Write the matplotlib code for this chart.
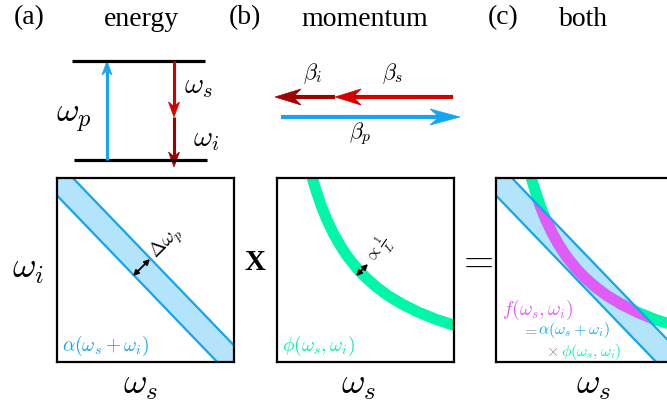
import numpy as np
import matplotlib
matplotlib.use("Agg")
import matplotlib.pyplot as plt
from matplotlib.patches import Polygon

plt.rcParams['mathtext.fontset'] = 'cm'
plt.rcParams['font.family'] = ['Liberation Serif', 'DejaVu Serif']

# colours
BLUE = '#14a5ee'
BLUE_FILL = '#b4e4fb'
RED = '#d40000'
DARK_RED = '#a00000'
GREEN = '#00f6a8'
MAGENTA = '#e15cf6'
GRAY = '#8a8a8a'

# joint spectral sketch, unit box coordinates
band_sum_lo = 0.905      # lower edge of pump band: ws + wi
band_sum_hi = 1.09       # upper edge
phase_x = [0.17, 0.20, 0.22, 0.25, 0.28, 0.32, 0.36, 0.40, 0.45, 0.50,
           0.56, 0.63, 0.71, 0.80, 0.90, 1.00, 1.05]
phase_y = [1.112, 0.998, 0.934, 0.849, 0.777, 0.696, 0.629, 0.571, 0.511, 0.460,
           0.409, 0.359, 0.313, 0.270, 0.231, 0.200, 0.186]

# panel boxes in pixels: left, top
box_left = [57, 277, 496]
box_top = 178
box_w, box_h = 177, 184

W, H = 667, 407
fig = plt.figure(figsize=(W / 100, H / 100), dpi=100)


def box_axes(x, y, w, h):
    ax = fig.add_axes([x / W, 1 - (y + h) / H, w / W, h / H])
    ax.set_xlim(0, 1)
    ax.set_ylim(0, 1)
    ax.set_xticks([])
    ax.set_yticks([])
    for s in ax.spines.values():
        s.set_linewidth(1.6)
        s.set_zorder(10)
    return ax


def draw_band(ax):
    xs = np.array([-0.2, 1.3])
    ax.fill_between(xs, band_sum_lo - xs, band_sum_hi - xs, color=BLUE_FILL, lw=0, zorder=1)
    return xs


def band_lines(ax, xs):
    ax.plot(xs, band_sum_lo - xs, color=BLUE, lw=1.6, zorder=5)
    ax.plot(xs, band_sum_hi - xs, color=BLUE, lw=1.6, zorder=5)


# (a) pump band
axa = box_axes(box_left[0], box_top, box_w, box_h)
xs = draw_band(axa)
band_lines(axa, xs)
axa.text(0.03, 0.09, r'$\alpha(\omega_s+\omega_i)$', color=BLUE, fontsize=14,
         transform=axa.transAxes, va='center')

# (b) phase matching
axb = box_axes(box_left[1], box_top, box_w, box_h)
axb.plot(phase_x, phase_y, color=GREEN, lw=8, solid_capstyle='butt',
         solid_joinstyle='round', zorder=2)
axb.text(0.03, 0.09, r'$\phi(\omega_s,\omega_i)$', color=GREEN, fontsize=14,
         transform=axb.transAxes, va='center')

# (c) product
axc = box_axes(box_left[2], box_top, box_w, box_h)
xs = draw_band(axc)
axc.plot(phase_x, phase_y, color=GREEN, lw=8, solid_capstyle='butt',
         solid_joinstyle='round', zorder=2)
clip = Polygon([[-0.2, band_sum_lo + 0.2], [-0.2, band_sum_hi + 0.2],
                [1.3, band_sum_hi - 1.3], [1.3, band_sum_lo - 1.3]],
               closed=True, transform=axc.transData, fc='none', ec='none')
axc.add_patch(clip)
mag, = axc.plot(phase_x, phase_y, color=MAGENTA, lw=8, solid_capstyle='butt',
                solid_joinstyle='round', zorder=3)
mag.set_clip_path(clip)
band_lines(axc, xs)

# overlay in pixel coordinates
ov = fig.add_axes([0, 0, 1, 1], zorder=20)
ov.set_xlim(0, W)
ov.set_ylim(H, 0)
ov.axis('off')
ov.patch.set_alpha(0)


def arrow(x0, y0, x1, y1, color, hl, hw, lw):
    d = np.array([x1 - x0, y1 - y0], dtype=float)
    d /= np.hypot(*d)
    n = np.array([-d[1], d[0]])
    tip = np.array([x1, y1], dtype=float)
    base = tip - d * hl
    notch = tip - d * hl * 0.7
    ov.plot([x0, notch[0]], [y0, notch[1]], color=color, lw=lw, solid_capstyle='butt')
    ov.add_patch(Polygon([tip, base + n * hw / 2, notch, base - n * hw / 2],
                         closed=True, fc=color, ec=color, lw=0.5))


# headers
for x, s in [(29, '(a)'), (245, '(b)'), (503, '(c)')]:
    ov.text(x, 18, s, fontsize=20, ha='center', va='center')
for x, s in [(141, 'energy'), (365, 'momentum'), (583, 'both')]:
    ov.text(x, 20, s, fontsize=20, ha='center', va='center')

# energy levels
ov.plot([72, 205], [61, 61], color='k', lw=2.3, solid_capstyle='butt')
ov.plot([74, 207], [160, 160], color='k', lw=2.3, solid_capstyle='butt')
arrow(107, 160, 107, 61, BLUE, 14, 10, 2.2)
arrow(174, 61, 174, 117, RED, 15, 11, 2.2)
arrow(174, 117, 174, 167, DARK_RED, 15, 11, 2.2)
ov.text(74, 119, r'$\omega_p$', fontsize=25, ha='center', va='center')
ov.text(198, 87, r'$\omega_s$', fontsize=21, ha='center', va='center')
ov.text(206, 140, r'$\omega_i$', fontsize=21, ha='center', va='center')

# momentum
arrow(453, 97, 335, 97, RED, 26, 16, 3)
arrow(335, 97, 275, 97, DARK_RED, 26, 16, 3)
arrow(281, 117, 460, 117, BLUE, 30, 16, 3)
ov.text(313, 74, r'$\beta_i$', fontsize=16, ha='center', va='center')
ov.text(392, 74, r'$\beta_s$', fontsize=16, ha='center', va='center')
ov.text(360, 134, r'$\beta_p$', fontsize=16, ha='center', va='center')

# axis labels and operators
ov.text(28, 270, r'$\omega_i$', fontsize=26, ha='center', va='center')
for x in [140, 358, 593]:
    ov.text(x, 386, r'$\omega_s$', fontsize=26, ha='center', va='center')
ov.text(255, 262, 'X', fontsize=21, fontweight='bold', ha='center', va='center')
ov.text(475, 262, r'$=$', fontsize=28, ha='center', va='center')

# widths
ov.annotate('', xy=(150, 259), xytext=(133, 276),
            arrowprops=dict(arrowstyle='<|-|>', color='k', lw=1.3,
                            mutation_scale=8, shrinkA=0, shrinkB=0))
ov.text(166, 243, r'$\Delta\omega_p$', fontsize=14, rotation=45, ha='center', va='center')
ov.annotate('', xy=(368, 264), xytext=(356, 276),
            arrowprops=dict(arrowstyle='<|-|>', color='k', lw=1.3,
                            mutation_scale=8, shrinkA=0, shrinkB=0))
ov.text(380, 251, r'$\propto\frac{1}{L}$', fontsize=12, rotation=55, ha='center', va='center')

# product formula
ov.text(502, 310, r'$f(\omega_s,\omega_i)$', color=MAGENTA, fontsize=14, va='center')
ov.text(522, 330, r'$=$', color=GRAY, fontsize=11.5, va='center')
ov.text(538, 330, r'$\alpha(\omega_s+\omega_i)$', color=BLUE, fontsize=11.5, va='center')
ov.text(546, 352, r'$\times$', color=GRAY, fontsize=11.5, va='center')
ov.text(561, 352, r'$\phi(\omega_s,\omega_i)$', color=GREEN, fontsize=11.5, va='center')

fig.savefig('out.png', dpi=100)
